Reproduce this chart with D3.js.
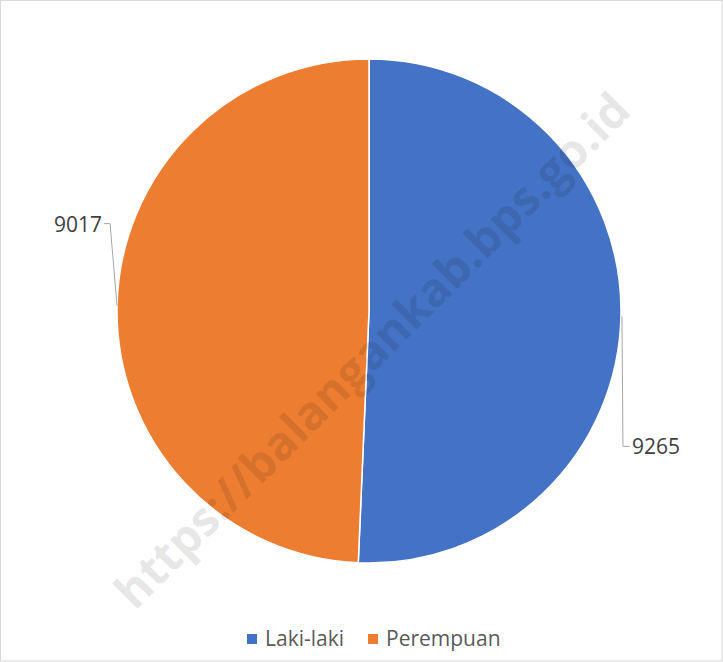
<!DOCTYPE html>
<html><head><meta charset="utf-8">
<script src="https://cdn.jsdelivr.net/npm/d3@7"></script>
<style>body{margin:0;background:#fff}svg{display:block}text{font-family:"Open Sans",sans-serif}</style>
</head><body>
<svg id="c" width="723" height="662"></svg>
<script>
const categories = ["Laki-laki", "Perempuan"];
const values = [9265, 9017];
const colors = ["#4472C4", "#ED7D31"];
const watermark = "https://balangankab.bps.go.id";

const svg = d3.select("#c");
const W = 723, H = 662, cx = 369, cy = 311, R = 252;

svg.append("rect").attr("x", 0.5).attr("y", 0.5).attr("width", W - 1.5).attr("height", H - 1.5)
  .attr("fill", "#fff").attr("stroke", "#d9d9d9");

const data = categories.map((c, i) => ({ cat: c, value: values[i], color: colors[i] }));
const pie = d3.pie().value(d => d.value).sort(null);
const arcs = pie(data);
const arc = d3.arc().innerRadius(0).outerRadius(R);
const g = svg.append("g").attr("transform", `translate(${cx},${cy})`);
g.selectAll("path").data(arcs).enter().append("path")
  .attr("d", arc).attr("fill", d => d.data.color).attr("stroke", "#fff").attr("stroke-width", 1.5);

// leader lines and labels
const edge = a => { const m = (a.startAngle + a.endAngle) / 2; return [R * Math.sin(m), -R * Math.cos(m)]; };
arcs.forEach((a, i) => {
  const [ex, ey] = edge(a);
  let pts, tx, ty, anchor;
  if (i === 0) {
    pts = [[ex + 1, ey], [ex + 2, ey + 130], [ex + 9, ey + 130]];
    tx = ex + 11; ty = ey + 138; anchor = "start";
  } else {
    pts = [[ex, ey], [ex - 7, ey - 82], [ex - 13, ey - 82]];
    tx = ex - 15; ty = ey - 74; anchor = "end";
  }
  g.append("path").attr("d", d3.line()(pts)).attr("fill", "none").attr("stroke", "#a6a6a6").attr("stroke-width", 1);
  g.append("text").attr("x", tx).attr("y", ty).attr("text-anchor", anchor)
    .attr("font-size", 21).attr("fill", "#404040").text(d3.format("d")(a.data.value));
});

// watermark
svg.append("text").attr("transform", "translate(384,362) rotate(-45)")
  .attr("text-anchor", "middle").attr("font-family", "'Liberation Sans',Arial,sans-serif")
  .attr("font-weight", "bold").attr("font-size", 47).attr("fill", "#000").attr("fill-opacity", 0.11)
  .text(watermark);

// legend
const lg = svg.append("g");
const lx = [247, 368];
data.forEach((d, i) => {
  lg.append("rect").attr("x", lx[i]).attr("y", 634).attr("width", 10).attr("height", 10).attr("fill", d.color);
  lg.append("text").attr("x", lx[i] + 18).attr("y", 646).attr("font-size", 21).attr("fill", "#595959").text(d.cat);
});
</script>
</body></html>
